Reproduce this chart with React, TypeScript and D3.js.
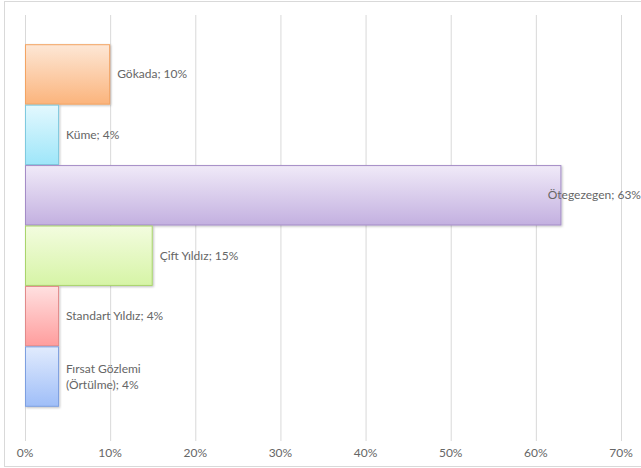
import React from "react";
import * as d3 from "d3";

const categories = [
  "Gökada",
  "Küme",
  "Ötegezegen",
  "Çift Yıldız",
  "Standart Yıldız",
  "Fırsat Gözlemi (Örtülme)",
];
const values = [10, 4, 63, 15, 4, 4];
const labelLines = [
  ["Gökada; 10%"],
  ["Küme; 4%"],
  ["Ötegezegen; 63%"],
  ["Çift Yıldız; 15%"],
  ["Standart Yıldız; 4%"],
  ["Fırsat Gözlemi", "(Örtülme); 4%"],
];
const ticks = [0, 10, 20, 30, 40, 50, 60, 70];

const fills = [
  { top: "#fde7d6", bottom: "#fbb47c", stroke: "#f3a463" },
  { top: "#e3f8fe", bottom: "#9ee6f9", stroke: "#7fcadf" },
  { top: "#f0eaf8", bottom: "#c3b0e0", stroke: "#a48cc7" },
  { top: "#f3fcdf", bottom: "#d6f4a6", stroke: "#a9d46c" },
  { top: "#ffe0e0", bottom: "#ff9d9d", stroke: "#e28a8a" },
  { top: "#e1ebfd", bottom: "#9fbef8", stroke: "#7d9fe0" },
];

const W = 641;
const H = 468;
const FONT = "Lato, 'Open Sans', sans-serif";

function measure(text: string): number {
  if (typeof document === "undefined") return text.length * 6.5;
  const c = document.createElement("canvas");
  const ctx = c.getContext("2d");
  if (!ctx) return text.length * 6.5;
  ctx.font = `12px ${FONT}`;
  return ctx.measureText(text).width;
}

export default function App() {
  const x = d3.scaleLinear().domain([0, 70]).range([25, 621]);
  const y = d3
    .scaleBand<string>()
    .domain(categories)
    .range([14, 437])
    .paddingInner(0)
    .paddingOuter(0.5);
  const gridTop = 15;
  const gridBottom = 441;
  const rightLimit = 641;

  return (
    <svg
      width={W}
      height={H}
      style={{ position: "fixed", left: 0, top: 0, background: "#fff" }}
      fontFamily={FONT}
    >
      <defs>
        {fills.map((f, i) => (
          <linearGradient key={i} id={`g${i}`} x1="0" y1="0" x2="0" y2="1">
            <stop offset="0" stopColor={f.top} />
            <stop offset="1" stopColor={f.bottom} />
          </linearGradient>
        ))}
        <filter id="sh" x="-10%" y="-10%" width="130%" height="130%">
          <feDropShadow dx="1" dy="1" stdDeviation="0.8" floodColor="#000" floodOpacity="0.25" />
        </filter>
      </defs>
      <rect x={4.5} y={1.5} width={W} height={465} fill="#fff" stroke="#d9d9d9" />
      {ticks.map((t) => (
        <g key={t}>
          <line
            x1={x(t) + 0.5}
            x2={x(t) + 0.5}
            y1={gridTop}
            y2={gridBottom}
            stroke="#d9d9d9"
          />
          <text
            x={x(t)}
            y={457}
            textAnchor="middle"
            fontSize={12}
            fill="#666666"
          >
            {t}%
          </text>
        </g>
      ))}
      {categories.map((c, i) => {
        const y0 = y(c)!;
        const bw = y.bandwidth();
        const x1 = x(values[i]);
        const lines = labelLines[i];
        const maxW = Math.max(...lines.map(measure));
        let lx = x1 + 7;
        if (lx + maxW > rightLimit) lx = rightLimit - maxW;
        const cy = y0 + bw / 2;
        const lh = 16;
        return (
          <g key={c}>
            <rect
              x={x(0) + 0.5}
              y={y0 + 0.5}
              width={x1 - x(0) - 1}
              height={bw - 1}
              fill={`url(#g${i})`}
              stroke={fills[i].stroke}
              filter="url(#sh)"
            />
            {lines.map((l, k) => (
              <text
                key={k}
                x={lx}
                y={cy + (k - (lines.length - 1) / 2) * lh + 4}
                fontSize={12}
                fill="#666666"
              >
                {l}
              </text>
            ))}
          </g>
        );
      })}
    </svg>
  );
}
